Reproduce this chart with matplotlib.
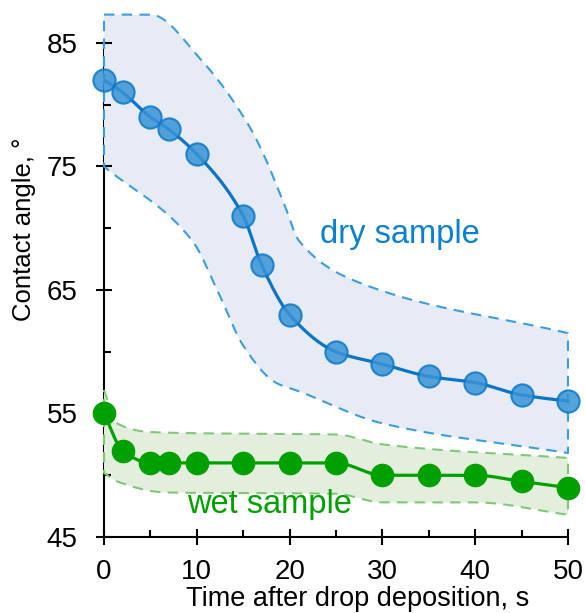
import matplotlib
matplotlib.use('Agg')
import matplotlib.pyplot as plt
from matplotlib.ticker import MultipleLocator
import numpy as np

plt.rcParams['font.family'] = ['Liberation Sans', 'DejaVu Sans']

# 측정 데이터 (시간, 접촉각)
time = [0, 2, 5, 7, 10, 15, 17, 20, 25, 30, 35, 40, 45, 50]
dry_angle = [82, 81, 79, 78, 76, 71, 67, 63, 60, 59, 58, 57.5, 56.5, 56]
wet_time = [0, 2, 5, 7, 10, 15, 20, 25, 30, 35, 40, 45, 50]
wet_angle = [55, 52, 51, 51, 51, 51, 51, 51, 50, 50, 50, 49.5, 49]

# 편차 범위 (위/아래 경계)
dry_upper_t = [0, 5, 10.5, 15.7, 17, 19.5, 21, 27.5, 50]
dry_upper = [87.3, 87.3, 83.6, 78.2, 76.3, 71.8, 69, 65.6, 61.5]
dry_lower_t = [0, 9.5, 12.5, 15, 18.5, 21, 30, 50]
dry_lower = [75, 69, 64.5, 60.5, 57.5, 56.8, 54.2, 51.8]
wet_upper_t = [0, 1.4, 5, 10, 25, 30, 50]
wet_upper = [56.9, 54.2, 53.5, 53.4, 53.3, 52.5, 51.4]
wet_lower_t = [0, 1.4, 6.8, 25, 30, 40, 50]
wet_lower = [50.2, 49.5, 48.6, 48.5, 47.8, 47.8, 46.8]


def pchip(x, y, xs):
    """단조 3차 보간 (곡선 그리기용)"""
    x = np.asarray(x, float)
    y = np.asarray(y, float)
    h = np.diff(x)
    d = np.diff(y) / h
    m = np.zeros_like(x)
    m[0], m[-1] = d[0], d[-1]
    for k in range(1, len(x) - 1):
        if d[k - 1] * d[k] > 0:
            w1 = 2 * h[k] + h[k - 1]
            w2 = h[k] + 2 * h[k - 1]
            m[k] = (w1 + w2) / (w1 / d[k - 1] + w2 / d[k])
    idx = np.clip(np.searchsorted(x, xs) - 1, 0, len(x) - 2)
    t = (xs - x[idx]) / h[idx]
    h00 = 2 * t**3 - 3 * t**2 + 1
    h10 = t**3 - 2 * t**2 + t
    h01 = -2 * t**3 + 3 * t**2
    h11 = t**3 - t**2
    return h00 * y[idx] + h10 * h[idx] * m[idx] + h01 * y[idx + 1] + h11 * h[idx] * m[idx + 1]


def band(ax, tu, yu, tl, yl, face, edge):
    xu = np.linspace(tu[0], tu[-1], 300)
    xl = np.linspace(tl[0], tl[-1], 300)
    px = np.concatenate([xu, xl[::-1]])
    py = np.concatenate([pchip(tu, yu, xu), pchip(tl, yl, xl)[::-1]])
    ax.fill(px, py, facecolor=face, edgecolor='none', zorder=1)
    ax.plot(np.append(px, px[0]), np.append(py, py[0]), color=edge, lw=1.5,
            ls=(0, (5, 3.5)), zorder=2, clip_on=False)


fig = plt.figure(figsize=(5.85, 6.13), dpi=100)
ax = fig.add_axes([0.1778, 0.124, 0.801, 0.8663])

band(ax, dry_upper_t, dry_upper, dry_lower_t, dry_lower, '#e6ebf6', '#3b9de0')
band(ax, wet_upper_t, wet_upper, wet_lower_t, wet_lower, '#e3eedc', '#80c878')

xs = np.linspace(0, 50, 400)
ax.plot(xs, pchip(time, dry_angle, xs), color='#0a74c6', lw=2.3, zorder=3)
ax.plot(time, dry_angle, 'o', ms=16, mfc='#3893d6', mec='#0a78c8', mew=1.5,
        alpha=0.85, zorder=4, clip_on=False)
ax.plot(xs, pchip(wet_time, wet_angle, xs), color='#00a000', lw=2.3, zorder=3)
ax.plot(wet_time, wet_angle, 'o', ms=16, mfc='#00a000', mec='#00a000',
        zorder=4, clip_on=False)

ax.text(23.3, 69.5, 'dry sample', color='#0a80d0', fontsize=23.5, va='center')
ax.text(8.9, 47.6, 'wet sample', color='#00a000', fontsize=23.5, va='center')

ax.set_xlim(0, 50.5)
ax.set_ylim(45, 88)
for s in ['top', 'right']:
    ax.spines[s].set_visible(False)
ax.spines['left'].set_bounds(45, 85)
ax.spines['bottom'].set_bounds(0, 50)
for s in ['left', 'bottom']:
    ax.spines[s].set_linewidth(1.5)
    ax.spines[s].set_zorder(0.5)

ax.set_xticks([0, 10, 20, 30, 40, 50])
ax.set_yticks([45, 55, 65, 75, 85])
ax.xaxis.set_minor_locator(MultipleLocator(5))
ax.yaxis.set_minor_locator(MultipleLocator(5))
ax.tick_params(which='major', direction='inout', length=11, width=1.5, labelsize=20)
ax.tick_params(axis='y', which='major', pad=13.5)
ax.tick_params(axis='x', which='major', pad=10)
ax.tick_params(which='minor', direction='in', length=5, width=1.5)

ax.set_xlabel('Time after drop deposition, s', fontsize=19.5)
ax.set_ylabel('Contact angle, °', fontsize=18.5)
ax.xaxis.set_label_coords(0.542, -0.092)
ax.yaxis.set_label_coords(-0.145, 0.58)

fig.savefig('out.png', dpi=100, facecolor='white')
